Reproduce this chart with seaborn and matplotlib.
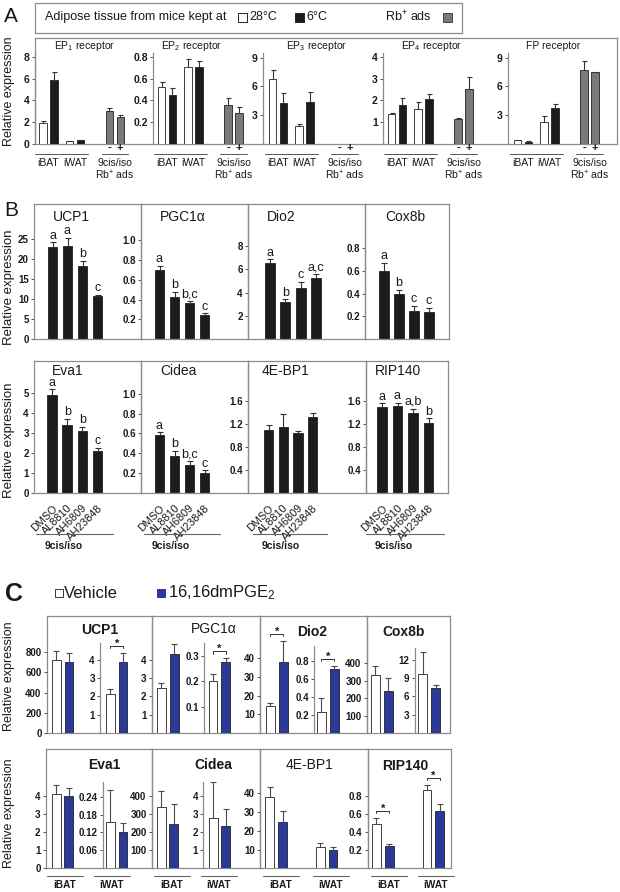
import numpy as np
import pandas as pd
import matplotlib
matplotlib.use("Agg")
import matplotlib.pyplot as plt
from matplotlib.patches import Rectangle
import seaborn as sns

# ======================= DATA =======================
# ---- Panel A : prostanoid receptor expression ----
A_titles = [r"$\mathregular{EP_1}$ receptor", r"$\mathregular{EP_2}$ receptor",
            r"$\mathregular{EP_3}$ receptor", r"$\mathregular{EP_4}$ receptor", "FP receptor"]
A_temps = ["28°C", "6°C"]
A_rb_levels = ["-", "+"]
A_iBAT_28 = [1.90, 0.52, 6.80, 1.37, 0.38]
A_iBAT_28_top = [2.14, 0.573, 7.70, 1.42, 0.45]
A_iBAT_6 = [5.88, 0.448, 4.30, 1.78, 0.25]
A_iBAT_6_top = [6.60, 0.51, 5.30, 2.13, 0.28]
A_iWAT_28 = [0.25, 0.705, 1.85, 1.60, 2.30]
A_iWAT_28_top = [0.29, 0.78, 2.05, 1.92, 2.90]
A_iWAT_6 = [0.37, 0.71, 4.40, 2.07, 3.70]
A_iWAT_6_top = [0.41, 0.766, 5.45, 2.28, 4.15]
A_rb_minus = [3.03, 0.356, np.nan, 1.15, 7.70]
A_rb_minus_top = [3.28, 0.42, np.nan, 1.20, 8.65]
A_rb_plus = [2.45, 0.283, np.nan, 2.53, 7.50]
A_rb_plus_top = [2.67, 0.343, np.nan, 3.10, 7.55]
A_yticks = [[0, 2, 4, 6, 8], [0.2, 0.4, 0.6, 0.8], [3, 6, 9], [1, 2, 3, 4], [3, 6, 9]]
A_yticklabels = [["0", "2", "4", "6", "8"], ["0.2", "0.4", "0.6", "0.8"],
                 ["3", "6", "9"], ["1", "2", "3", "4"], ["3", "6", "9"]]

# ---- Panel B : EP/FP antagonists ----
B_treatments = ["DMSO", "AL8810", "AH6809", "AH23848"]
B_row1_titles = ["UCP1", "PGC1α", "Dio2", "Cox8b"]
B_row2_titles = ["Eva1", "Cidea", "4E-BP1", "RIP140"]
B_UCP1 = [23.0, 23.3, 18.3, 10.7]
B_UCP1_top = [24.25, 25.4, 19.6, 11.1]
B_UCP1_letters = ["a", "a", "b", "c"]
B_PGC1a = [0.697, 0.43, 0.362, 0.25]
B_PGC1a_top = [0.738, 0.48, 0.388, 0.262]
B_PGC1a_letters = ["a", "b", "b,c", "c"]
B_Dio2 = [6.57, 3.2, 4.42, 5.28]
B_Dio2_top = [6.85, 3.43, 4.94, 5.57]
B_Dio2_letters = ["a", "b", "c", "a,c"]
B_Cox8b = [0.597, 0.396, 0.245, 0.236]
B_Cox8b_top = [0.67, 0.434, 0.29, 0.277]
B_Cox8b_letters = ["a", "b", "c", "c"]
B_Eva1 = [4.9, 3.4, 3.12, 2.13]
B_Eva1_top = [5.2, 3.74, 3.32, 2.26]
B_Eva1_letters = ["a", "b", "b", "c"]
B_Cidea = [0.58, 0.378, 0.287, 0.203]
B_Cidea_top = [0.613, 0.428, 0.32, 0.227]
B_Cidea_letters = ["a", "b", "b,c", "c"]
B_4EBP1 = [1.10, 1.14, 1.05, 1.33]
B_4EBP1_top = [1.18, 1.38, 1.08, 1.40]
B_4EBP1_letters = ["", "", "", ""]
B_RIP140 = [1.50, 1.52, 1.40, 1.22]
B_RIP140_top = [1.56, 1.57, 1.47, 1.30]
B_RIP140_letters = ["a", "a", "a,b", "b"]
B_row1_ticks = [[0, 5, 10, 15, 20, 25], [0.2, 0.4, 0.6, 0.8, 1.0], [2, 4, 6, 8], [0.2, 0.4, 0.6, 0.8]]
B_row1_ticklabels = [["0", "5", "10", "15", "20", "25"], ["0.2", "0.4", "0.6", "0.8", "1.0"],
                     ["2", "4", "6", "8"], ["0.2", "0.4", "0.6", "0.8"]]
B_row2_ticks = [[0, 1, 2, 3, 4, 5], [0.2, 0.4, 0.6, 0.8, 1.0], [0.4, 0.8, 1.2, 1.6], [0.4, 0.8, 1.2, 1.6]]
B_row2_ticklabels = [["0", "1", "2", "3", "4", "5"], ["0.2", "0.4", "0.6", "0.8", "1.0"],
                     ["0.4", "0.8", "1.2", "1.6"], ["0.4", "0.8", "1.2", "1.6"]]

# ---- Panel C : 16,16dmPGE2 treatment ----
C_treat = ["Vehicle", "16,16dmPGE2"]
C_tissues = ["iBAT", "iWAT"]
C_UCP1_iBAT = [725, 701];      C_UCP1_iBAT_top = [810, 790]
C_UCP1_iWAT = [2.12, 3.85];    C_UCP1_iWAT_top = [2.42, 4.38]
C_PGC1a_iBAT = [2.45, 4.30];   C_PGC1a_iBAT_top = [2.75, 4.85]
C_PGC1a_iWAT = [0.20, 0.275];  C_PGC1a_iWAT_top = [0.228, 0.29]
C_Dio2_iBAT = [14.2, 38.0];    C_Dio2_iBAT_top = [16.0, 49.4]
C_Dio2_iWAT = [0.23, 0.71];    C_Dio2_iWAT_top = [0.39, 0.742]
C_Cox8b_iBAT = [333, 243];     C_Cox8b_iBAT_top = [383, 314]
C_Cox8b_iWAT = [9.65, 7.36];   C_Cox8b_iWAT_top = [13.2, 7.85]
C_Eva1_iBAT = [4.13, 4.0];     C_Eva1_iBAT_top = [4.64, 4.47]
C_Eva1_iWAT = [0.155, 0.12];   C_Eva1_iWAT_top = [0.261, 0.153]
C_Cidea_iBAT = [340, 247];     C_Cidea_iBAT_top = [427, 357]
C_Cidea_iWAT = [2.77, 2.31];   C_Cidea_iWAT_top = [4.74, 3.26]
C_4EBP1 = [38.2, 24.5, 11.4, 9.6];      C_4EBP1_top = [43.2, 30.7, 13.6, 11.4]
C_RIP140 = [0.49, 0.243, 0.866, 0.628]; C_RIP140_top = [0.555, 0.269, 0.921, 0.708]

# ======================= STYLE =======================
sns.set_theme(style="white")
plt.rcParams["font.family"] = ["Liberation Sans", "DejaVu Sans"]
plt.rcParams["mathtext.fontset"] = "custom"
plt.rcParams["mathtext.rm"] = "Liberation Sans"
plt.rcParams["mathtext.it"] = "Liberation Sans:italic"
plt.rcParams["mathtext.bf"] = "Liberation Sans:bold"

FRAME = "#8c8c8c"
BLACK = "#1c1c1c"
GRAY = "#7a7a7a"
BLUE = "#2b3a98"
ERR = "#333333"
TXT = "#1a1a1a"

W, H = 620, 892
fig = plt.figure(figsize=(6.2, 8.92), dpi=100)
fig.patch.set_facecolor("white")


def fx(x):
    return x / W


def fy(y):
    return 1 - y / H


def add_ax(x0, x1, ytop, ybot, frame=False):
    ax = fig.add_axes([fx(x0), fy(ybot), (x1 - x0) / W, (ybot - ytop) / H])
    ax.patch.set_visible(False)
    for s in ax.spines.values():
        s.set_visible(frame)
        s.set_color(FRAME)
        s.set_linewidth(0.9)
    ax.set_xticks([])
    ax.set_yticks([])
    return ax


def ftext(x, y, s, **kw):
    kw.setdefault("color", TXT)
    return fig.text(fx(x), fy(y), s, **kw)


def draw_bars(ax, df, xcol, order, hue=None, hue_order=None, palette=None,
              color=None, width=0.8, gap=0.0):
    kw = dict(data=df, x=xcol, y="val", order=order, width=width, gap=gap,
              errorbar=None, edgecolor="#202020", linewidth=0.6, saturation=1, ax=ax)
    if hue is not None:
        kw.update(hue=hue, hue_order=hue_order, palette=palette, legend=False)
    else:
        kw.update(color=color)
    sns.barplot(**kw)
    ax.set_xlabel("")
    ax.set_ylabel("")


def bar_centers(ax):
    return sorted(p.get_x() + p.get_width() / 2 for p in ax.patches)


def add_err(ax, vals, tops, color=ERR, lw=0.8, cap=2.2):
    v = np.asarray(vals, float)
    t = np.asarray(tops, float)
    keep = ~np.isnan(v)
    v, t = v[keep], t[keep]
    xs = bar_centers(ax)
    eb = ax.errorbar(xs, v, yerr=[np.zeros_like(v), t - v], fmt="none", ecolor=color,
                     elinewidth=lw, capsize=cap, capthick=lw, zorder=3)
    for cl in eb[1]:
        if np.allclose(cl.get_ydata(), v):
            cl.set_visible(False)
    return xs


def style_y(ax, ticks, labels, ymax, size):
    ax.set_ylim(0, ymax)
    ax.set_yticks(ticks)
    ax.set_yticklabels(labels, fontsize=size, fontweight="bold", color=TXT)
    ax.tick_params(axis="y", left=True, direction="out", length=2.5, width=0.7,
                   color="#555555", pad=1.2)


# ======================= PANEL A =======================
ftext(4, 16, "A", fontsize=15, va="center", ha="left")
fig.add_artist(Rectangle((fx(35), fy(33)), (462 - 35) / W, 30 / H, transform=fig.transFigure,
                         fill=False, ec=FRAME, lw=0.9))
ftext(45, 17, "Adipose tissue from mice kept at", fontsize=9, va="center")
fig.add_artist(Rectangle((fx(238), fy(22)), 9 / W, 9 / H, transform=fig.transFigure,
                         fc="white", ec="#222222", lw=0.7))
ftext(249, 17, A_temps[0], fontsize=9, va="center")
fig.add_artist(Rectangle((fx(295), fy(22)), 9 / W, 9 / H, transform=fig.transFigure,
                         fc=BLACK, ec="#222222", lw=0.7))
ftext(306, 17, A_temps[1], fontsize=9, va="center")
ftext(385, 17, r"$\mathregular{Rb^{+}}$ ads", fontsize=9, va="center")
fig.add_artist(Rectangle((fx(443), fy(22)), 9 / W, 9 / H, transform=fig.transFigure,
                         fc=GRAY, ec="#444444", lw=0.7))

add_ax(35, 617, 38, 144, frame=True)
ftext(9, 91, "Relative expression", fontsize=9, rotation=90, ha="center", va="center")

A_order = ["iBAT", "_g1", "iWAT", "_g2", "_g3", "Rb"]
A_layout = [(35, 153, 48.3, 8.35), (153, 263, 167, 0.836), (263, 383, 278, 9.48),
            (383, 508, 397, 4.18), (508, 617, 523, 9.48)]
A_title_x = [85, 192, 317, 432, 553]
S_A = 13.3
A_W, A_GAP = 1.65, 0.32
for i, (x0, x1, c0, ymax) in enumerate(A_layout):
    ax = add_ax(x0, x1, 53, 144)
    df_t = pd.DataFrame({
        "group": ["iBAT", "iBAT", "iWAT", "iWAT"],
        "cond": A_temps * 2,
        "val": [A_iBAT_28[i], A_iBAT_6[i], A_iWAT_28[i], A_iWAT_6[i]],
    })
    draw_bars(ax, df_t, "group", A_order, hue="cond", hue_order=A_temps,
              palette=["white", BLACK], width=A_W, gap=A_GAP)
    if not np.isnan(A_rb_minus[i]):
        df_r = pd.DataFrame({"group": ["Rb", "Rb"], "cond": A_rb_levels,
                             "val": [A_rb_minus[i], A_rb_plus[i]]})
        draw_bars(ax, df_r, "group", A_order, hue="cond", hue_order=A_rb_levels,
                  palette=[GRAY, GRAY], width=A_W, gap=A_GAP)
    add_err(ax, [A_iBAT_28[i], A_iBAT_6[i], A_iWAT_28[i], A_iWAT_6[i], A_rb_minus[i], A_rb_plus[i]],
            [A_iBAT_28_top[i], A_iBAT_6_top[i], A_iWAT_28_top[i], A_iWAT_6_top[i],
             A_rb_minus_top[i], A_rb_plus_top[i]], cap=1.8)
    ax.set_xlim((x0 - c0) / S_A, (x1 - c0) / S_A)
    ax.set_xticks([])
    style_y(ax, A_yticks[i], A_yticklabels[i], ymax, 7.5)
    ax.spines["left"].set_visible(True)
    ax.spines["left"].set_color(FRAME)
    ftext(A_title_x[i], 46, A_titles[i], fontsize=7.5, ha="center", va="center")
    tr = matplotlib.transforms.blended_transform_factory(ax.transData, fig.transFigure)
    for g in ["iBAT", "iWAT", "Rb"]:
        gx = A_order.index(g)
        ax.plot([gx - 1.0, gx + 1.0], [fy(153.5), fy(153.5)], transform=tr,
                color="#555555", lw=0.7, clip_on=False)
    for g in ["iBAT", "iWAT"]:
        ax.text(A_order.index(g), fy(163), g, transform=tr, ha="center", va="center",
                fontsize=7.5, color=TXT)
    rx = A_order.index("Rb")
    for k, lev in enumerate(A_rb_levels):
        ax.text(rx + (k - 0.5) * A_W / 2, fy(147.5), lev, transform=tr, ha="center",
                va="center", fontsize=8, fontweight="bold", color=TXT)
    ax.text(rx, fy(163), "9cis/iso", transform=tr, ha="center", va="center",
            fontsize=7.5, color=TXT)
    ax.text(rx, fy(175), r"$\mathregular{Rb^{+}}$ ads", transform=tr, ha="center",
            va="center", fontsize=7.5, color=TXT)

# ======================= PANEL B =======================
ftext(4, 210, "B", fontsize=15, va="center", ha="left")
ftext(9, 287, "Relative expression", fontsize=9.5, rotation=90, ha="center", va="center")
ftext(9, 440, "Relative expression", fontsize=9.5, rotation=90, ha="center", va="center")

B_row1_data = [(B_UCP1, B_UCP1_top, B_UCP1_letters), (B_PGC1a, B_PGC1a_top, B_PGC1a_letters),
               (B_Dio2, B_Dio2_top, B_Dio2_letters), (B_Cox8b, B_Cox8b_top, B_Cox8b_letters)]
B_row2_data = [(B_Eva1, B_Eva1_top, B_Eva1_letters), (B_Cidea, B_Cidea_top, B_Cidea_letters),
               (B_4EBP1, B_4EBP1_top, B_4EBP1_letters), (B_RIP140, B_RIP140_top, B_RIP140_letters)]
# (left, right, first bar centre, pitch, ymax, title centre x)
B_row1_layout = [(34, 141, 52.5, 15.0, 33.8, 71), (141, 248, 159.5, 15.0, 1.364, 183),
                 (248, 365, 269.7, 15.5, 11.6, 281), (365, 449, 384, 15.0, 1.183, 405)]
B_row2_layout = [(34, 141, 52.0, 15.2, 6.63, 68), (141, 248, 159.5, 15.0, 1.331, 178),
                 (248, 366, 268.5, 14.7, 2.296, 285), (366, 448, 382, 15.5, 2.30, 398)]

for row, (titles, datas, layouts, ticks, ticklabels, top, bot, ty) in enumerate([
        (B_row1_titles, B_row1_data, B_row1_layout, B_row1_ticks, B_row1_ticklabels, 204, 339.3, 217),
        (B_row2_titles, B_row2_data, B_row2_layout, B_row2_ticks, B_row2_ticklabels, 361, 493, 371)]):
    for j in range(4):
        vals, tops, letters = datas[j]
        x0, x1, c0, pitch, ymax, tx = layouts[j]
        ax = add_ax(x0, x1, top, bot, frame=True)
        df = pd.DataFrame({"treat": B_treatments, "val": vals})
        draw_bars(ax, df, "treat", B_treatments, color=BLACK, width=0.63)
        xs = add_err(ax, vals, tops, cap=2.2)
        ax.set_xlim((x0 - c0) / pitch, (x1 - c0) / pitch)
        style_y(ax, ticks[j], ticklabels[j], ymax, 7)
        for xc, t, lab in zip(xs, tops, letters):
            if lab:
                ax.annotate(lab, (xc, t), xytext=(0, 0.5), textcoords="offset points",
                            ha="center", va="bottom", fontsize=9, color=TXT)
        ftext(tx, ty, titles[j], fontsize=10, ha="center", va="center")
        if row == 0:
            ax.set_xticks([])
        else:
            ax.set_xticks(range(len(B_treatments)))
            ax.set_xticklabels(B_treatments, rotation=45, ha="right", va="top",
                               rotation_mode="anchor", fontsize=7.8, color=TXT)
            ax.tick_params(axis="x", bottom=False, pad=1.2)
            tr = matplotlib.transforms.blended_transform_factory(ax.transData, fig.transFigure)
            ax.plot([-1.05, 4.0], [fy(534.3), fy(534.3)], transform=tr, color="#666666",
                    lw=0.8, clip_on=False)
            ax.text(-0.5, fy(546), "9cis/iso", transform=tr, ha="left", va="center",
                    fontsize=7.5, fontweight="bold", color=TXT)

# ======================= PANEL C =======================
ftext(5, 594, "C", fontsize=18, fontweight="bold", va="center", ha="left")
fig.add_artist(Rectangle((fx(55), fy(597)), 8 / W, 8 / H, transform=fig.transFigure,
                         fc="white", ec="#333333", lw=0.7))
ftext(64, 593, C_treat[0], fontsize=12, va="center")
fig.add_artist(Rectangle((fx(157), fy(597)), 8 / W, 8 / H, transform=fig.transFigure,
                         fc=BLUE, ec=BLUE, lw=0.7))
ftext(168, 593, r"16,16dm$\mathregular{PGE_2}$", fontsize=12, va="center")
ftext(9, 676, "Relative expression", fontsize=9, rotation=90, ha="center", va="center")
ftext(9, 813, "Relative expression", fontsize=9, rotation=90, ha="center", va="center")

P1 = 31.75   # px per category unit, single-tissue axes
P2 = 50.5    # px per category unit, two-tissue axes


def c_axes(x0, x1, ytop, ybot, order, vals, tops, centre, P, width, ymax, ticks, labels,
           spine=False, sig=()):
    ax = add_ax(x0, x1, ytop, ybot)
    n = len(order)
    df = pd.DataFrame({"tissue": np.repeat(order, 2), "treat": C_treat * n, "val": vals})
    draw_bars(ax, df, "tissue", order, hue="treat", hue_order=C_treat,
              palette=["white", BLUE], width=width, gap=0.3)
    cs = add_err(ax, vals, tops, color="#4a4a4a", cap=2.2)
    ax.set_xlim((x0 - centre) / P, (x1 - centre) / P)
    ax.set_xticks([])
    style_y(ax, ticks, labels, ymax, 7)
    if spine:
        ax.spines["left"].set_visible(True)
        ax.spines["left"].set_color(FRAME)
    ppu = (ybot - ytop) / ymax
    for k in sig:
        xa, xb = cs[2 * k], cs[2 * k + 1]
        yb = max(tops[2 * k], tops[2 * k + 1]) + 7 / ppu
        ax.plot([xa, xa, xb, xb], [yb - 2.5 / ppu, yb, yb, yb - 2.5 / ppu], color="#333333",
                lw=0.7, clip_on=False)
        ax.text((xa + xb) / 2, yb - 1 / ppu, "*", ha="center", va="baseline", fontsize=8,
                fontweight="bold", color=TXT, clip_on=False)
    return ax


# frames
R1T, R1B = 616, 733
for a, b in [(46.7, 151.7), (151.7, 260), (260, 366.7), (366.7, 450)]:
    add_ax(a, b, R1T, R1B, frame=True)
R2T, R2B = 749.3, 868.3
for a, b in [(45.7, 151.7), (151.7, 260), (260, 367.7), (367.7, 450.7)]:
    add_ax(a, b, R2T, R2B, frame=True)

one = ["iBAT"]
two = ["iWAT"]
# UCP1
c_axes(46.7, 100, R1T, R1B, one, C_UCP1_iBAT, C_UCP1_iBAT_top, 62.7, P1, 0.8, 1157,
       [0, 200, 400, 600, 800], ["0", "200", "400", "600", "800"])
c_axes(100, 151.7, 643, R1B, two, C_UCP1_iWAT, C_UCP1_iWAT_top, 116.7, P1, 0.8, 4.91,
       [1, 2, 3, 4], ["1", "2", "3", "4"], spine=True, sig=(0,))
# PGC1a
c_axes(151.7, 204, R1T, R1B, one, C_PGC1a_iBAT, C_PGC1a_iBAT_top, 167.8, P1, 0.8, 6.38,
       [1, 2, 3, 4], ["1", "2", "3", "4"])
c_axes(204, 260, 643, R1B, two, C_PGC1a_iWAT, C_PGC1a_iWAT_top, 219.3, P1, 0.8, 0.349,
       [0.1, 0.2, 0.3], ["0.1", "0.2", "0.3"], spine=True, sig=(0,))
# Dio2
c_axes(260, 314.3, R1T, R1B, one, C_Dio2_iBAT, C_Dio2_iBAT_top, 276.8, P1, 0.8, 62.6,
       [10, 20, 30, 40], ["10", "20", "30", "40"], sig=(0,))
c_axes(314.3, 366.7, 645.7, R1B, two, C_Dio2_iWAT, C_Dio2_iWAT_top, 327.8, P1, 0.8, 0.965,
       [0.2, 0.4, 0.6, 0.8], ["0.2", "0.4", "0.6", "0.8"], spine=True, sig=(0,))
# Cox8b
c_axes(366.7, 414.7, R1T, R1B, one, C_Cox8b_iBAT, C_Cox8b_iBAT_top, 381.8, P1, 0.8, 669,
       [100, 200, 300, 400], ["100", "200", "300", "400"])
c_axes(414.7, 450, 648.3, R1B, two, C_Cox8b_iWAT, C_Cox8b_iWAT_top, 429.2, P1, 0.8, 13.86,
       [3, 6, 9, 12], ["3", "6", "9", "12"], spine=True)
# Eva1
c_axes(45.7, 102.7, R2T, R2B, one, C_Eva1_iBAT, C_Eva1_iBAT_top, 62.5, P1, 0.8, 6.6,
       [0, 1, 2, 3, 4], ["0", "1", "2", "3", "4"])
c_axes(102.7, 151.7, 781.7, R2B, two, C_Eva1_iWAT, C_Eva1_iWAT_top, 116.7, P1, 0.8, 0.29,
       [0.06, 0.12, 0.18, 0.24], ["0.06", "0.12", "0.18", "0.24"], spine=True)
# Cidea
c_axes(151.7, 203.3, R2T, R2B, one, C_Cidea_iBAT, C_Cidea_iBAT_top, 167.5, P1, 0.8, 657,
       [100, 200, 300, 400], ["100", "200", "300", "400"])
c_axes(203.3, 260, 781.7, R2B, two, C_Cidea_iWAT, C_Cidea_iWAT_top, 219.5, P1, 0.8, 4.78,
       [1, 2, 3, 4], ["1", "2", "3", "4"], spine=True)
# 4E-BP1 and RIP140 (both tissues on one axis)
c_axes(260, 367.7, R2T, R2B, C_tissues, C_4EBP1, C_4EBP1_top, 276.2, P2, 0.8 * P1 / P2,
       63.6, [10, 20, 30, 40], ["10", "20", "30", "40"])
c_axes(367.7, 450.7, R2T, R2B, C_tissues, C_RIP140, C_RIP140_top, 382.8, P2,
       0.8 * P1 / P2, 1.31, [0.2, 0.4, 0.6, 0.8], ["0.2", "0.4", "0.6", "0.8"], sig=(0, 1))

# titles in C
C_title_specs = [(100, 630, "UCP1", "bold"), (214, 629, "PGC1α", "normal"),
                 (311.7, 631.7, "Dio2", "bold"), (403.7, 631.7, "Cox8b", "bold"),
                 (104, 765, "Eva1", "bold"), (213.3, 765, "Cidea", "bold"),
                 (310, 765, "4E-BP1", "normal"), (405.3, 766, "RIP140", "bold")]
for x, y, s, wgt in C_title_specs:
    ftext(x, y, s, fontsize=10, fontweight=wgt, ha="center", va="center")

# tissue labels under row 2
C_group_centres = [64.5, 111.5, 171.5, 218.5, 281, 330.5, 389, 436]
for k, xc in enumerate(C_group_centres):
    fig.add_artist(matplotlib.lines.Line2D([fx(xc - 18), fx(xc + 18)], [fy(875.7), fy(875.7)],
                                           transform=fig.transFigure, color="#666666", lw=0.8))
    ftext(xc, 885, C_tissues[k % 2], fontsize=7.2, fontweight="bold", ha="center", va="center")

fig.savefig("out.png", dpi=100)
